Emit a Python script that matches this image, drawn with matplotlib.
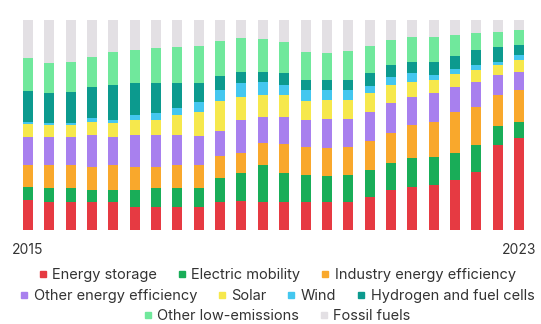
import matplotlib
matplotlib.use("Agg")
import matplotlib.pyplot as plt
from matplotlib.lines import Line2D
import numpy as np

plt.rcParams['font.family'] = ['Inter', 'DejaVu Sans']

# Share of investment by technology, 24 periods from 2015 to 2023 (percent)
periods = list(range(24))
tick_labels = {0: "2015", 23: "2023"}

energy_storage = [14.3, 13.3, 13.3, 13.3, 13.3, 11.0, 11.0, 11.0, 11.0, 13.3, 13.8, 13.3,
                  13.3, 13.3, 13.3, 13.3, 15.7, 19.0, 20.5, 21.4, 23.8, 27.6, 40.5, 43.8]
electric_mobility = [6.2, 6.7, 6.7, 5.7, 5.7, 8.1, 9.0, 9.0, 9.0, 11.4, 13.3, 17.6,
                     13.8, 12.9, 12.4, 12.9, 12.9, 12.9, 13.8, 13.3, 12.9, 12.9, 9.0, 7.6]
industry_efficiency = [10.5, 11.0, 11.0, 11.0, 11.9, 11.0, 10.0, 11.0, 11.0, 10.5, 9.5, 10.5,
                       13.8, 13.3, 13.3, 13.3, 13.8, 14.3, 15.7, 16.7, 19.5, 18.1, 14.8, 15.2]
other_efficiency = [13.3, 13.3, 13.3, 15.2, 13.3, 15.2, 15.2, 14.3, 13.8, 11.9, 15.7, 12.4,
                    12.9, 12.9, 13.8, 13.3, 13.8, 14.3, 13.3, 13.8, 11.9, 11.9, 9.5, 8.6]
solar = [6.2, 5.7, 5.7, 6.2, 6.7, 7.1, 7.1, 9.5, 11.4, 14.3, 11.0, 10.5,
         10.5, 9.0, 9.0, 9.0, 9.0, 8.6, 7.1, 6.2, 6.2, 5.7, 4.8, 5.7]
wind = [1.0, 1.0, 1.0, 1.9, 1.4, 2.4, 3.3, 3.3, 4.8, 5.2, 6.7, 6.2,
        4.8, 5.2, 4.8, 4.8, 3.3, 3.8, 4.3, 2.4, 2.4, 2.4, 1.4, 2.4]
hydrogen = [14.8, 14.3, 14.8, 14.8, 16.7, 15.2, 14.3, 11.9, 9.0, 6.7, 5.2, 4.8,
            5.7, 4.8, 4.8, 4.8, 6.2, 5.7, 5.2, 6.2, 6.2, 7.1, 7.1, 4.8]
other_low_emissions = [15.7, 14.3, 14.3, 14.3, 15.7, 15.7, 16.7, 17.1, 17.6, 16.7, 16.2, 15.7,
                       14.8, 13.3, 12.9, 13.8, 12.9, 11.9, 11.9, 11.9, 10.0, 8.1, 7.1, 7.1]
fossil_fuels = [18.1, 20.5, 20.0, 17.6, 15.2, 14.3, 13.3, 12.9, 12.4, 10.0, 8.6, 9.0,
                10.5, 15.2, 15.7, 14.8, 12.4, 9.5, 8.1, 8.1, 7.1, 6.2, 5.7, 4.8]

series = [
    ("Energy storage", energy_storage, "#e63a42"),
    ("Electric mobility", electric_mobility, "#19ad58"),
    ("Industry energy efficiency", industry_efficiency, "#f9a82c"),
    ("Other energy efficiency", other_efficiency, "#a880ee"),
    ("Solar", solar, "#f6e84c"),
    ("Wind", wind, "#44c7ef"),
    ("Hydrogen and fuel cells", hydrogen, "#0c9a8e"),
    ("Other low-emissions", other_low_emissions, "#70e89c"),
    ("Fossil fuels", fossil_fuels, "#e3e0e4"),
]

values = np.array([s[1] for s in series])
totals = values.sum(axis=0)
shares = values / totals * 100

W, H = 541, 324
fig = plt.figure(figsize=(W / 100, H / 100), dpi=100)
ax = fig.add_axes([17.3 / W, (H - 230) / H, 512.4 / W, 210 / H])

bottom = np.zeros(len(periods))
handles = {}
for (name, _, color), row in zip(series, shares):
    ax.bar(periods, row, bottom=bottom, width=0.47, color=color, linewidth=0)
    bottom += row
    handles[name] = Line2D([], [], marker='s', linestyle='none', markersize=4.5,
                           markerfacecolor=color, markeredgecolor=color)

ax.set_xlim(-0.5, 23.5)
ax.set_ylim(0, 100)
ax.set_yticks([])
ax.set_xticks(list(tick_labels.keys()))
ax.set_xticklabels(list(tick_labels.values()), fontsize=10, color="#333333")
ax.tick_params(axis='x', length=0, pad=9)
for side in ax.spines.values():
    side.set_visible(False)

rows = [
    (["Energy storage", "Electric mobility", "Industry energy efficiency"], 275),
    (["Other energy efficiency", "Solar", "Wind", "Hydrogen and fuel cells"], 296),
    (["Other low-emissions", "Fossil fuels"], 316),
]
for names, ypix in rows:
    leg = fig.legend([handles[n] for n in names], names, loc='center',
                     bbox_to_anchor=(0.5 * 541 / W + 0.012, 1 - ypix / H), ncol=len(names),
                     frameon=False, fontsize=10.5, handlelength=0.6, handletextpad=0.35,
                     columnspacing=1.4, borderpad=0, borderaxespad=0)
    for t in leg.get_texts():
        t.set_color("#333333")

fig.savefig("out.png", dpi=100)
